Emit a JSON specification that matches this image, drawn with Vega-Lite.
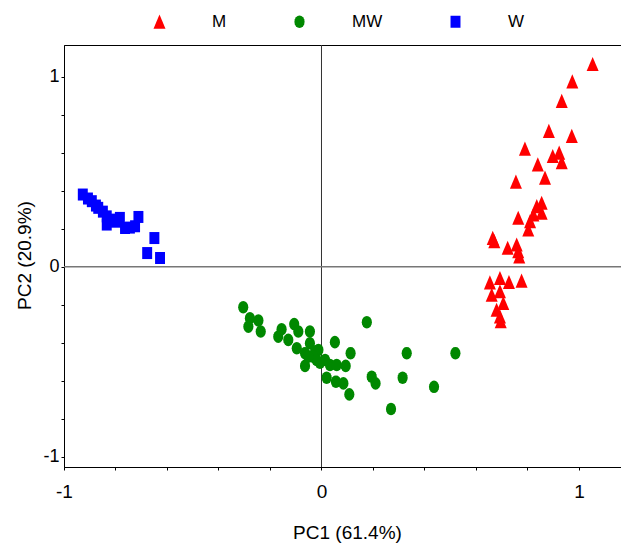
{
  "$schema": "https://vega.github.io/schema/vega-lite/v6.json",
  "width": 558,
  "height": 422,
  "autosize": {"type": "none"},
  "padding": {"left": 64, "top": 45, "right": 0, "bottom": 77},
  "background": "white",
  "config": {
    "font": "Liberation Sans",
    "view": {"stroke": "black", "strokeWidth": 1},
    "axis": {"grid": false, "domainColor": "black", "tickColor": "black", "labelColor": "black", "titleColor": "black", "titleFontWeight": "normal", "labelFlush": false, "labelOverlap": false, "labelBound": false, "labelFont": "Liberation Sans", "titleFont": "Liberation Sans"}
  },
  "layer": [
    {
      "data": {"values": [{}]},
      "mark": {"type": "rule", "color": "#333333", "strokeWidth": 1},
      "encoding": {"x": {"datum": 0, "type": "quantitative", "scale": {"domain": [-1, 1.167], "nice": false, "zero": false}}}
    },
    {
      "data": {"values": [{}]},
      "mark": {"type": "rule", "color": "#777777", "strokeWidth": 1.5},
      "encoding": {"y": {"datum": 0, "type": "quantitative", "scale": {"domain": [-1.054, 1.167], "nice": false, "zero": false}}}
    },
    {
      "data": {"values": [
        {"group": "M", "pc1": 1.053, "pc2": 1.066},
        {"group": "M", "pc1": 0.974, "pc2": 0.975},
        {"group": "M", "pc1": 0.933, "pc2": 0.872},
        {"group": "M", "pc1": 0.883, "pc2": 0.714},
        {"group": "M", "pc1": 0.972, "pc2": 0.688},
        {"group": "M", "pc1": 0.790, "pc2": 0.621},
        {"group": "M", "pc1": 0.898, "pc2": 0.582},
        {"group": "M", "pc1": 0.923, "pc2": 0.600},
        {"group": "M", "pc1": 0.933, "pc2": 0.550},
        {"group": "M", "pc1": 0.840, "pc2": 0.538},
        {"group": "M", "pc1": 0.868, "pc2": 0.468},
        {"group": "M", "pc1": 0.755, "pc2": 0.447},
        {"group": "M", "pc1": 0.855, "pc2": 0.336},
        {"group": "M", "pc1": 0.836, "pc2": 0.318},
        {"group": "M", "pc1": 0.855, "pc2": 0.283},
        {"group": "M", "pc1": 0.823, "pc2": 0.274},
        {"group": "M", "pc1": 0.810, "pc2": 0.239},
        {"group": "M", "pc1": 0.764, "pc2": 0.257},
        {"group": "M", "pc1": 0.803, "pc2": 0.195},
        {"group": "M", "pc1": 0.665, "pc2": 0.151},
        {"group": "M", "pc1": 0.671, "pc2": 0.134},
        {"group": "M", "pc1": 0.723, "pc2": 0.099},
        {"group": "M", "pc1": 0.758, "pc2": 0.116},
        {"group": "M", "pc1": 0.764, "pc2": 0.081},
        {"group": "M", "pc1": 0.768, "pc2": 0.054},
        {"group": "M", "pc1": 0.654, "pc2": -0.083},
        {"group": "M", "pc1": 0.693, "pc2": -0.060},
        {"group": "M", "pc1": 0.728, "pc2": -0.081},
        {"group": "M", "pc1": 0.777, "pc2": -0.074},
        {"group": "M", "pc1": 0.661, "pc2": -0.148},
        {"group": "M", "pc1": 0.693, "pc2": -0.130},
        {"group": "M", "pc1": 0.706, "pc2": -0.192},
        {"group": "M", "pc1": 0.680, "pc2": -0.227},
        {"group": "M", "pc1": 0.693, "pc2": -0.262},
        {"group": "M", "pc1": 0.696, "pc2": -0.288},
        {"group": "MW", "pc1": -0.304, "pc2": -0.213},
        {"group": "MW", "pc1": -0.278, "pc2": -0.271},
        {"group": "MW", "pc1": -0.245, "pc2": -0.283},
        {"group": "MW", "pc1": -0.284, "pc2": -0.315},
        {"group": "MW", "pc1": -0.236, "pc2": -0.341},
        {"group": "MW", "pc1": -0.155, "pc2": -0.329},
        {"group": "MW", "pc1": -0.168, "pc2": -0.368},
        {"group": "MW", "pc1": -0.129, "pc2": -0.385},
        {"group": "MW", "pc1": -0.106, "pc2": -0.302},
        {"group": "MW", "pc1": -0.090, "pc2": -0.341},
        {"group": "MW", "pc1": -0.045, "pc2": -0.341},
        {"group": "MW", "pc1": -0.096, "pc2": -0.429},
        {"group": "MW", "pc1": -0.045, "pc2": -0.403},
        {"group": "MW", "pc1": -0.064, "pc2": -0.455},
        {"group": "MW", "pc1": -0.025, "pc2": -0.447},
        {"group": "MW", "pc1": -0.012, "pc2": -0.438},
        {"group": "MW", "pc1": -0.064, "pc2": -0.522},
        {"group": "MW", "pc1": -0.019, "pc2": -0.491},
        {"group": "MW", "pc1": 0.014, "pc2": -0.491},
        {"group": "MW", "pc1": -0.006, "pc2": -0.505},
        {"group": "MW", "pc1": -0.032, "pc2": -0.473},
        {"group": "MW", "pc1": -0.051, "pc2": -0.473},
        {"group": "MW", "pc1": 0.052, "pc2": -0.397},
        {"group": "MW", "pc1": 0.033, "pc2": -0.517},
        {"group": "MW", "pc1": 0.059, "pc2": -0.517},
        {"group": "MW", "pc1": 0.094, "pc2": -0.522},
        {"group": "MW", "pc1": 0.113, "pc2": -0.455},
        {"group": "MW", "pc1": 0.020, "pc2": -0.584},
        {"group": "MW", "pc1": 0.056, "pc2": -0.605},
        {"group": "MW", "pc1": 0.085, "pc2": -0.614},
        {"group": "MW", "pc1": 0.108, "pc2": -0.672},
        {"group": "MW", "pc1": 0.176, "pc2": -0.292},
        {"group": "MW", "pc1": 0.195, "pc2": -0.579},
        {"group": "MW", "pc1": 0.210, "pc2": -0.614},
        {"group": "MW", "pc1": 0.331, "pc2": -0.455},
        {"group": "MW", "pc1": 0.315, "pc2": -0.584},
        {"group": "MW", "pc1": 0.270, "pc2": -0.749},
        {"group": "MW", "pc1": 0.437, "pc2": -0.632},
        {"group": "MW", "pc1": 0.520, "pc2": -0.455},
        {"group": "W", "pc1": -0.927, "pc2": 0.380},
        {"group": "W", "pc1": -0.907, "pc2": 0.359},
        {"group": "W", "pc1": -0.892, "pc2": 0.345},
        {"group": "W", "pc1": -0.876, "pc2": 0.322},
        {"group": "W", "pc1": -0.867, "pc2": 0.310},
        {"group": "W", "pc1": -0.849, "pc2": 0.290},
        {"group": "W", "pc1": -0.834, "pc2": 0.265},
        {"group": "W", "pc1": -0.834, "pc2": 0.222},
        {"group": "W", "pc1": -0.814, "pc2": 0.248},
        {"group": "W", "pc1": -0.798, "pc2": 0.237},
        {"group": "W", "pc1": -0.783, "pc2": 0.257},
        {"group": "W", "pc1": -0.763, "pc2": 0.204},
        {"group": "W", "pc1": -0.744, "pc2": 0.206},
        {"group": "W", "pc1": -0.724, "pc2": 0.213},
        {"group": "W", "pc1": -0.711, "pc2": 0.262},
        {"group": "W", "pc1": -0.649, "pc2": 0.151},
        {"group": "W", "pc1": -0.677, "pc2": 0.072},
        {"group": "W", "pc1": -0.627, "pc2": 0.046}
      ]},
      "mark": {"type": "point", "filled": true, "opacity": 1, "size": 144, "strokeWidth": 0},
      "encoding": {
        "x": {
          "field": "pc1", "type": "quantitative",
          "scale": {"domain": [-1, 1.167], "nice": false, "zero": false},
          "axis": {
            "values": [-1, -0.95, -0.9, -0.85, -0.8, -0.75, -0.7, -0.65, -0.6, -0.55, -0.5, -0.45, -0.4, -0.35, -0.3, -0.25, -0.2, -0.15, -0.1, -0.05, 0, 0.05, 0.1, 0.15, 0.2, 0.25, 0.3, 0.35, 0.4, 0.45, 0.5, 0.55, 0.6, 0.65, 0.7, 0.75, 0.8, 0.85, 0.9, 0.95, 1, 1.05, 1.1, 1.15],
            "labelExpr": "datum.value == 1 ? '1' : datum.value == 0 ? '0' : datum.value == -1 ? '-1' : ''",
            "tickSize": 3, "labelFontSize": 19, "labelPadding": 12,
            "title": "PC1 (61.4%)", "titleFontSize": 19, "titleX": 283, "titleY": 65, "titleBaseline": "middle", "titleAnchor": "middle", "titleAlign": "center"
          }
        },
        "y": {
          "field": "pc2", "type": "quantitative",
          "scale": {"domain": [-1.054, 1.167], "nice": false, "zero": false},
          "axis": {
            "values": [-1, -0.9, -0.8, -0.7, -0.6, -0.5, -0.4, -0.3, -0.2, -0.1, 0, 0.1, 0.2, 0.3, 0.4, 0.5, 0.6, 0.7, 0.8, 0.9, 1, 1.1],
            "labelExpr": "datum.value == 1 ? '1' : datum.value == 0 ? '0' : datum.value == -1 ? '-1' : ''",
            "tickSize": 3, "labelFontSize": 18, "labelPadding": 2,
            "title": "PC2 (20.9%)", "titleFontSize": 19, "titleX": -40, "titleY": 210, "titleBaseline": "middle", "titleAlign": "center", "titleAngle": 270
          }
        },
        "color": {
          "field": "group", "type": "nominal",
          "scale": {"domain": ["M", "MW", "W"], "range": ["#FF0000", "#008800", "#0000FF"]},
          "legend": {
            "orient": "none", "legendX": 87, "legendY": -32, "direction": "horizontal", "title": null,
            "labelFontSize": 17, "labelFont": "Liberation Sans", "labelColor": "black", "labelOffset": 44, "columnPadding": 64,
            "symbolSize": 144, "symbolStrokeWidth": 0, "symbolOpacity": 1, "padding": 0
          }
        },
        "shape": {
          "field": "group", "type": "nominal",
          "scale": {"domain": ["M", "MW", "W"], "range": [
            "M0,-1.2L-1,1.15L1,1.15Z",
            "M0.85,0L0.785,0.4L0.6,0.74L0.325,0.97L0,1.05L-0.325,0.97L-0.6,0.74L-0.785,0.4L-0.85,0L-0.785,-0.4L-0.6,-0.74L-0.325,-0.97L0,-1.05L0.325,-0.97L0.6,-0.74L0.785,-0.4Z",
            "M-0.83,-1L0.83,-1L0.83,1L-0.83,1Z"
          ]},
          "legend": {
            "orient": "none", "legendX": 87, "legendY": -32, "direction": "horizontal", "title": null,
            "labelFontSize": 17, "labelFont": "Liberation Sans", "labelColor": "black", "labelOffset": 44, "columnPadding": 64,
            "symbolSize": 144, "symbolStrokeWidth": 0, "symbolOpacity": 1, "padding": 0
          }
        }
      }
    }
  ]
}
